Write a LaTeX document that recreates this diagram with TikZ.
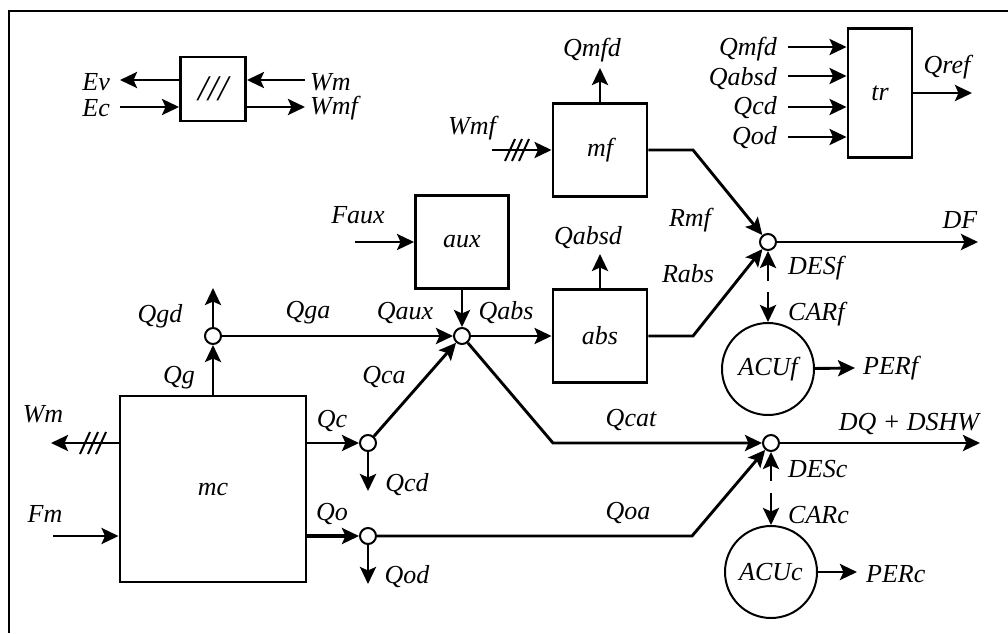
\documentclass[tikz,border=0pt]{standalone}
\usepackage{fontspec}
\setmainfont{Liberation Serif}
\usetikzlibrary{arrows.meta}
\begin{document}
\begin{tikzpicture}[x=1pt,y=-1pt,
  wire/.style={line width=2.9pt},
  arr/.style={wire,-{Stealth[length=17pt,width=16pt,inset=3.5pt]}},
  blk/.style={draw,line width=2.9pt,inner sep=0pt,font=\fontsize{26}{26}\selectfont\itshape},
  junc/.style={circle,draw,fill=white,line width=2pt,minimum size=16pt,inner sep=0pt},
  acu/.style={circle,draw,line width=2pt,minimum size=92pt,inner sep=0pt,font=\fontsize{26}{26}\selectfont\itshape},
  lbl/.style={font=\fontsize{26}{26}\selectfont\itshape,inner sep=0pt},
  slash/.style={line width=2pt}
]
\useasboundingbox (0,0) rectangle (1008,633);
\draw[line width=2.6pt] (1008,11) -- (9,11) -- (9,633);

% blocks
\node[blk,minimum width=65pt,minimum height=64pt,font=\fontsize{36}{36}\selectfont\itshape] (conv) at (213,89) {///};
\node[blk,minimum width=94pt,minimum height=93pt] (mf) at (600,150) {mf};
\node[blk,minimum width=93pt,minimum height=93pt] (aux) at (462,242) {aux};
\node[blk,minimum width=94pt,minimum height=93pt] (abs) at (600,336) {abs};
\node[blk,minimum width=186pt,minimum height=186pt] (mc) at (213,489) {mc};
\node[blk,minimum width=64pt,minimum height=129pt] (tr) at (880,93) {tr};
\node[acu] (acuf) at (768,369) {ACUf};
\node[acu] (acuc) at (771,572) {ACUc};

% junctions
\node[junc] (jg) at (213,336) {};
\node[junc] (j1) at (462,336) {};
\node[junc] (jc2) at (368,443) {};
\node[junc] (jo) at (368,536) {};
\node[junc] (jf) at (768,242) {};
\node[junc] (jc) at (771,443) {};

% free ends and bends
\coordinate (ev) at (120,80);
\coordinate (ec) at (120,107);
\coordinate (wmin) at (305,80);
\coordinate (wmfout) at (305,107);
\coordinate (qmfd) at (600,68);
\coordinate (wmfin) at (492,150);
\coordinate (mfb) at (693,150);
\coordinate (qabsd) at (600,254);
\coordinate (absb) at (693,336);
\coordinate (faux) at (355,242);
\coordinate (df) at (978,242);
\coordinate (desf) at (768,281);
\coordinate (carf) at (768,292);
\coordinate (perf) at (855,368);
\coordinate (qcb) at (553,443);
\coordinate (dq) at (980,443);
\coordinate (desc) at (771,481);
\coordinate (carc) at (771,493);
\coordinate (perc) at (857,572);
\coordinate (qob) at (692,536);
\coordinate (qgd) at (213,288);
\coordinate (qcd) at (368,491);
\coordinate (qod) at (368,584);
\coordinate (wm) at (51,443);
\coordinate (fm) at (53,536);
\coordinate (t1) at (788,47);
\coordinate (t2) at (788,76);
\coordinate (t3) at (788,107);
\coordinate (t4) at (788,137);
\coordinate (qref) at (972,93);

% top-left converter
\draw[arr] (conv.west |- ev) -- (ev);
\draw[arr] (ec) -- (conv.west |- ec);
\draw[arr] (wmin) -- (conv.east |- wmin);
\draw[arr] (conv.east |- wmfout) -- (wmfout);

% mf
\draw[arr] (mf.north) -- (qmfd);
\draw[arr] (wmfin) -- (mf.west);
\foreach \x in {510,517,524} \draw[slash] (\x-5,161) -- (\x+5,139);
\draw[arr] (mf.east) -- (mfb) -- (jf);

% aux / abs
\draw[arr] (faux) -- (aux.west);
\draw[arr] (aux.south) -- (j1);
\draw[arr] (j1) -- (abs.west);
\draw[arr] (abs.north) -- (qabsd);
\draw[arr] (abs.east) -- (absb) -- (jf);

% storage f
\draw[arr] (jf) -- (df);
\draw[arr] (desf) -- (jf);
\draw[arr] (carf) -- (acuf);
\draw[arr] (acuf) -- (perf);

% mc
\draw[arr] (mc.north) -- (jg);
\draw[arr] (jg) -- (qgd);
\draw[arr] (jg) -- (j1);
\draw[arr] (mc.east |- jc2) -- (jc2);
\draw[arr] (jc2) -- (qcd);
\draw[arr] (jc2) -- (j1);
\draw[arr,line width=3.4pt] (mc.east |- jo) -- (jo);
\draw[arr] (jo) -- (qod);
\draw[arr] (mc.west |- wm) -- (wm);
\foreach \x in {85,93,101} \draw[slash] (\x-5,454) -- (\x+5,432);
\draw[arr] (fm) -- (mc.west |- fm);

% to storage c
\draw[arr] (j1) -- (qcb) -- (jc);
\draw[arr] (jo) -- (qob) -- (jc);
\draw[arr] (jc) -- (dq);
\draw[arr] (desc) -- (jc);
\draw[arr] (carc) -- (acuc);
\draw[arr] (acuc) -- (perc);

% tr
\draw[arr] (t1) -- (tr.west |- t1);
\draw[arr] (t2) -- (tr.west |- t2);
\draw[arr] (t3) -- (tr.west |- t3);
\draw[arr] (t4) -- (tr.west |- t4);
\draw[arr] (tr.east |- qref) -- (qref);

% labels
\node[lbl,anchor=east] (lev) at (110,82) {Ev};
\node[lbl,anchor=east] (lec) at (110,108) {Ec};
\node[lbl,anchor=west] (lwm1) at (310,82) {Wm};
\node[lbl,anchor=west] (lwmf1) at (310,108) {Wmf};
\node[lbl] (lqmfd) at (592,50) {Qmfd};
\node[lbl] (lwmf) at (472,128) {Wmf};
\node[lbl] (lrmf) at (690,220) {Rmf};
\node[lbl] (lqabsd) at (588,238) {Qabsd};
\node[lbl] (lfaux) at (358,215) {Faux};
\node[lbl] (lqaux) at (405,313) {Qaux};
\node[lbl] (lqabs) at (506,313) {Qabs};
\node[lbl] (lrabs) at (688,274) {Rabs};
\node[lbl] (ldf) at (960,220) {DF};
\node[lbl,anchor=west] (ldesf) at (788,268) {DESf};
\node[lbl,anchor=west] (lcarf) at (788,314) {CARf};
\node[lbl,anchor=west] (lperf) at (863,368) {PERf};
\node[lbl] (lqcat) at (631,420) {Qcat};
\node[lbl] (ldq) at (909,424) {DQ + DSHW};
\node[lbl,anchor=west] (ldesc) at (788,469) {DESc};
\node[lbl,anchor=west] (lcarc) at (788,515) {CARc};
\node[lbl,anchor=west] (lperc) at (866,574) {PERc};
\node[lbl] (lqoa) at (628,513) {Qoa};
\node[lbl] (lqgd) at (160,316) {Qgd};
\node[lbl] (lqga) at (308,313) {Qga};
\node[lbl] (lqg) at (179,378) {Qg};
\node[lbl] (lqca) at (384,377) {Qca};
\node[lbl] (lwm) at (43,414) {Wm};
\node[lbl] (lqc) at (332,421) {Qc};
\node[lbl] (lqcd) at (407,485) {Qcd};
\node[lbl] (lfm) at (45,514) {Fm};
\node[lbl] (lqo) at (332,514) {Qo};
\node[lbl] (lqod) at (407,577) {Qod};
\node[lbl,anchor=east] (lt1) at (777,49) {Qmfd};
\node[lbl,anchor=east] (lt2) at (777,79) {Qabsd};
\node[lbl,anchor=east] (lt3) at (777,108) {Qcd};
\node[lbl,anchor=east] (lt4) at (777,138) {Qod};
\node[lbl] (lqref) at (947,67) {Qref};
\end{tikzpicture}
\end{document}
